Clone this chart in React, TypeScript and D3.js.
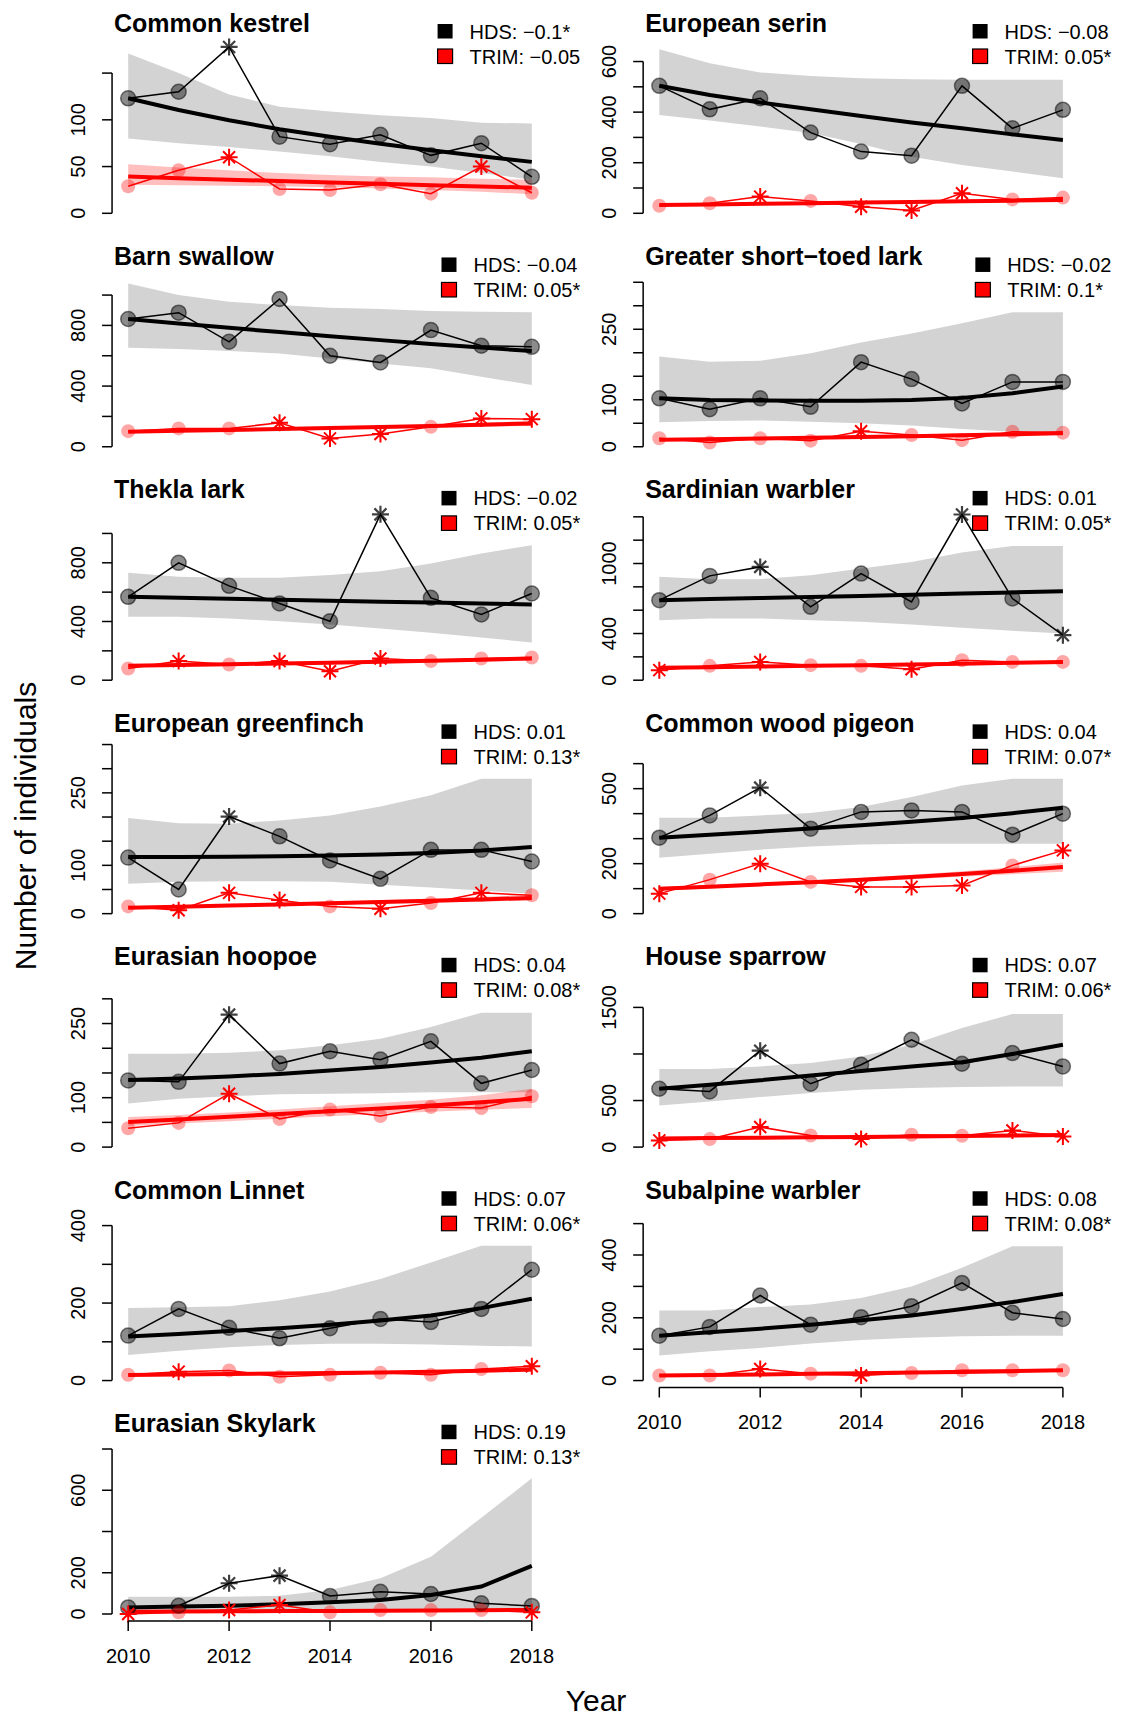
import React, { useEffect, useRef } from 'react';
import * as d3 from 'd3';

// survey years (x axis)
const years = [2010, 2011, 2012, 2013, 2014, 2015, 2016, 2017, 2018];

const species = [
  'Common kestrel', 'European serin', 'Barn swallow', 'Greater short\u2212toed lark',
  'Thekla lark', 'Sardinian warbler', 'European greenfinch', 'Common wood pigeon',
  'Eurasian hoopoe', 'House sparrow', 'Common Linnet', 'Subalpine warbler', 'Eurasian Skylark',
];

const hdsSlope = ['\u22120.1*', '\u22120.08', '\u22120.04', '\u22120.02', '\u22120.02', '0.01', '0.01', '0.04', '0.04', '0.07', '0.07', '0.08', '0.19'];
const trimSlope = ['\u22120.05', '0.05*', '0.05*', '0.1*', '0.05*', '0.05*', '0.13*', '0.07*', '0.08*', '0.06*', '0.06*', '0.08*', '0.13*'];

// y domain top, tick step, top tick and labelled ticks
const yTop = [184, 680, 1134, 366, 1172, 1474, 356, 688, 348, 1847, 444, 548, 834];
const tickStep = [50, 100, 200, 50, 200, 200, 50, 100, 50, 500, 100, 100, 200];
const tickMax = [150, 600, 1000, 350, 1000, 1400, 350, 600, 300, 1500, 400, 500, 800];
const tickLabels = [
  [0, 50, 100], [0, 200, 400, 600], [0, 400, 800], [0, 100, 250], [0, 400, 800], [0, 400, 1000],
  [0, 100, 250], [0, 200, 500], [0, 100, 250], [0, 500, 1500], [0, 200, 400], [0, 200, 400], [0, 200, 600],
];

// HDS abundance estimates
const hdsCounts = [
  [123, 130, 178, 82, 74, 84, 62, 75, 39],
  [504, 411, 455, 319, 244, 228, 504, 336, 409],
  [842, 884, 692, 974, 600, 556, 769, 666, 659],
  [103, 80, 103, 85, 180, 144, 92, 138, 138],
  [568, 800, 643, 523, 402, 1130, 561, 448, 591],
  [686, 894, 971, 629, 914, 671, 1420, 700, 386],
  [116, 50, 201, 160, 110, 72, 132, 132, 108],
  [304, 393, 504, 340, 407, 413, 407, 316, 400],
  [135, 132, 268, 169, 194, 177, 214, 129, 156],
  [627, 598, 1035, 680, 884, 1153, 895, 1010, 866],
  [116, 185, 136, 109, 135, 159, 151, 185, 286],
  [143, 171, 271, 178, 202, 237, 311, 216, 196],
  [32, 40, 149, 186, 87, 108, 97, 52, 39],
];
const hdsStars = [[2], [], [], [], [5], [2, 6, 8], [2], [2], [2], [2], [], [], [2, 3]];

const hdsFit = [
  [123, 110.5, 99.5, 90, 82, 74.5, 67.5, 61, 55],
  [504, 468, 438, 411, 385, 359, 336, 312, 290],
  [842, 812, 784, 756, 729, 703, 678, 654, 631],
  [103, 99.5, 98.5, 98, 98, 99.5, 104, 114, 128],
  [568, 561, 555, 548, 542, 535, 529, 522, 516],
  [686, 695, 704, 713, 722, 732, 742, 752, 763],
  [117, 117.5, 118, 119, 120.5, 122.5, 125.5, 130.5, 138],
  [304, 316, 328, 341, 354, 368, 383, 402, 424],
  [136, 139, 143, 148, 155, 162, 171, 181, 194],
  [626, 670, 718, 768, 818, 866, 912, 1000, 1099],
  [114, 120, 128, 135, 144, 155, 168, 187, 211],
  [143, 154, 165, 178, 192, 207, 228, 250, 276],
  [32, 36, 40, 47, 57, 68, 92, 133, 233],
];
const hdsLower = [
  [80, 75, 71, 66, 61, 55, 50, 43, 36],
  [389, 367, 343, 317, 274, 224, 191, 165, 139],
  [653, 644, 631, 615, 582, 549, 517, 462, 407],
  [52, 55, 56, 53, 50, 45, 38, 32, 28],
  [432, 432, 421, 402, 380, 352, 323, 291, 257],
  [514, 529, 529, 514, 500, 477, 449, 423, 400],
  [62, 66, 67, 67, 66, 60, 54, 48, 41],
  [224, 240, 256, 269, 277, 280, 280, 280, 280],
  [88, 98, 103, 107, 108, 109, 111, 111, 111],
  [448, 491, 537, 580, 616, 634, 645, 652, 652],
  [66, 77, 86, 92, 95, 95, 93, 90, 88],
  [80, 93, 104, 118, 129, 136, 141, 143, 143],
  [19, 19, 20, 20, 20, 19, 19, 18, 16],
];
const hdsUpper = [
  [171, 150, 127, 114, 109, 105, 102, 97, 96],
  [649, 593, 557, 543, 534, 530, 528, 528, 528],
  [1077, 1000, 956, 934, 917, 908, 895, 890, 886],
  [192, 181, 183, 199, 222, 241, 263, 286, 286],
  [732, 705, 698, 698, 716, 743, 795, 864, 920],
  [886, 866, 866, 900, 957, 1014, 1094, 1151, 1151],
  [198, 187, 186, 193, 203, 222, 245, 279, 279],
  [384, 384, 393, 403, 427, 467, 513, 540, 540],
  [189, 189, 191, 196, 206, 219, 243, 272, 272],
  [838, 838, 866, 902, 974, 1099, 1278, 1429, 1429],
  [187, 189, 192, 207, 230, 262, 305, 348, 348],
  [223, 223, 234, 242, 263, 300, 359, 428, 428],
  [84, 84, 84, 89, 116, 173, 278, 467, 658],
];

// TRIM indices
const trimCounts = [
  [29, 46, 60, 26, 25, 31, 21, 50, 22],
  [30, 40, 66, 49, 26, 11, 79, 55, 62],
  [103, 121, 121, 158, 55, 84, 132, 187, 182],
  [18, 9, 18, 13, 33, 25, 14, 32, 30],
  [80, 130, 107, 130, 61, 148, 130, 148, 155],
  [86, 123, 157, 129, 123, 94, 171, 157, 157],
  [15, 7, 43, 28, 15, 10, 22, 43, 38],
  [80, 136, 200, 127, 107, 107, 113, 193, 253],
  [38, 49, 108, 57, 76, 63, 81, 79, 103],
  [72, 86, 215, 125, 86, 133, 122, 179, 115],
  [15, 23, 26, 10, 15, 20, 15, 30, 37],
  [16, 16, 37, 22, 16, 24, 33, 33, 33],
  [0, 8, 19, 44, 8, 19, 19, 19, 8],
];
const trimStars = [[2, 7], [2, 4, 5, 6], [3, 4, 5, 7, 8], [4], [1, 3, 4, 5], [0, 2, 5], [1, 2, 3, 5, 7], [0, 2, 4, 5, 6, 8], [2], [0, 2, 4, 7, 8], [1, 8], [2, 4], [0, 2, 3, 8]];

const trimFit = [
  [39.3, 37.6, 36, 34.5, 33, 31.5, 30.1, 28.7, 27.4],
  [33, 35.2, 37.5, 39.9, 42.4, 44.9, 47.4, 50, 52.7],
  [99, 105, 111, 117, 123, 129.5, 136, 145, 154],
  [15, 16.2, 17.5, 19, 20.5, 22.2, 24.3, 26.5, 29],
  [98, 103, 108.5, 114, 119.5, 125.5, 132, 139.5, 148],
  [106, 111, 117, 123, 129, 135, 141, 149, 157],
  [12.4, 14.5, 16.7, 19, 21.5, 24, 26.8, 29.5, 32.4],
  [100, 108, 117, 126, 136, 147, 159, 172, 187],
  [50.6, 56, 61.5, 67, 72.5, 78, 84, 90.5, 97.8],
  [93, 97, 101, 105, 109.5, 114, 118.5, 123.5, 129],
  [14.6, 15.7, 16.9, 18.2, 19.6, 21.1, 22.8, 25.2, 28.4],
  [16, 17.7, 19.5, 21.4, 23.3, 25.3, 27.5, 30, 33],
  [11.3, 12.2, 13.1, 14, 15, 16, 17.1, 18.2, 19.4],
];
const trimLower = [
  [30.5, 30, 29.5, 29, 28, 26.5, 25, 23, 20.5],
  [28, 30.5, 33, 35.5, 38, 40.5, 42.5, 45, 47],
  [90, 97, 104, 110, 116, 121, 127, 132, 137],
  [12, 13, 14.5, 16, 17.5, 19, 20.5, 22, 24],
  [90, 95, 100, 106, 111, 116, 122, 128, 134],
  [98, 104, 110, 116, 122, 127, 133, 139, 145],
  [10, 12, 14, 16.5, 18.5, 20.5, 22.5, 25, 27],
  [93, 101, 110, 119, 128, 138, 148, 158, 168],
  [42.5, 47.5, 52.5, 57.5, 62.5, 67, 71.5, 75.5, 79],
  [82, 86, 90, 94, 98, 102, 106, 110, 114],
  [12, 13, 14.2, 15.5, 16.8, 18, 19.5, 21, 23],
  [13.5, 15, 17, 19, 21, 22.8, 24.8, 26.8, 29],
  [8, 9, 10, 11, 12, 13, 14, 15, 15.5],
];
const trimUpper = [
  [52.5, 49, 46, 43, 41, 39.5, 38.5, 37, 36],
  [38, 40, 42, 44.5, 47, 49.5, 52, 55, 58],
  [108, 114, 119, 125, 131, 138, 146, 158, 170],
  [18, 19.5, 21, 22.5, 24, 26, 28, 31, 34],
  [106, 111, 117, 123, 128, 135, 143, 151, 162],
  [114, 119, 124, 130, 136, 143, 150, 159, 169],
  [15, 17, 19.5, 22, 24.5, 27.5, 31, 35, 39],
  [107, 115, 124, 133, 144, 156, 170, 186, 205],
  [60.7, 65, 70, 76, 82.5, 89, 96, 105, 118],
  [104, 108, 112, 117, 121, 126, 131, 137, 145],
  [17.5, 18.5, 19.8, 21, 22.5, 24.3, 26.5, 30, 34],
  [19, 20.5, 22, 24, 25.8, 28, 30.5, 33.5, 37],
  [15, 15.5, 16.5, 17.5, 18.5, 19.5, 21, 22.5, 24],
];

const xTicks = [2010, 2012, 2014, 2016, 2018];
const FONT = '"Liberation Sans", Arial, Helvetica, sans-serif';

function starPath(cx: number, cy: number) {
  const a = 8.5, b = 6;
  return `M${cx - a},${cy}H${cx + a}M${cx},${cy - a}V${cy + a}` +
    `M${cx - b},${cy - b}L${cx + b},${cy + b}M${cx - b},${cy + b}L${cx + b},${cy - b}`;
}

export default function App() {
  const ref = useRef<SVGSVGElement>(null);

  useEffect(() => {
    const svg = d3.select(ref.current);
    svg.selectAll('*').remove();

    species.forEach((name, i) => {
      const col = i % 2;
      const row = Math.floor(i / 2);
      const x0 = 128.2 + col * 531.1;
      const zeroY = 213.3 + row * 233.45;
      const top = zeroY - 213.3;

      const x = d3.scaleLinear().domain([2010, 2018]).range([x0, x0 + 403.6]);
      const y = d3.scaleLinear().domain([0, yTop[i]]).range([zeroY, zeroY - 172]);
      const g = svg.append('g');

      const band = (lo: number[], hi: number[]) =>
        d3.area<number>().x(d => x(d)).y0((_, j) => y(lo[j])).y1((_, j) => y(hi[j]))(years);
      const path = (vals: number[]) => d3.line<number>().x(d => x(d)).y((_, j) => y(vals[j]))(years);

      // confidence bands
      g.append('path').attr('d', band(hdsLower[i], hdsUpper[i])).attr('fill', '#d3d3d3');
      g.append('path').attr('d', band(trimLower[i], trimUpper[i])).attr('fill', 'rgba(255,0,0,0.25)');

      // fitted trends
      g.append('path').attr('d', path(hdsFit[i])).attr('fill', 'none').attr('stroke', '#000').attr('stroke-width', 4);
      g.append('path').attr('d', path(trimFit[i])).attr('fill', 'none').attr('stroke', '#ff0000').attr('stroke-width', 4);

      // yearly values
      g.append('path').attr('d', path(hdsCounts[i])).attr('fill', 'none').attr('stroke', '#000').attr('stroke-width', 1.5);
      g.append('path').attr('d', path(trimCounts[i])).attr('fill', 'none').attr('stroke', '#ff0000').attr('stroke-width', 1.5);

      years.forEach((yr, j) => {
        const cx = x(yr), cy = y(hdsCounts[i][j]);
        if (hdsStars[i].includes(j)) {
          g.append('path').attr('d', starPath(cx, cy)).attr('stroke', 'rgba(0,0,0,0.75)').attr('stroke-width', 2.2);
        } else {
          g.append('circle').attr('cx', cx).attr('cy', cy).attr('r', 7.5)
            .attr('fill', 'rgba(0,0,0,0.45)').attr('stroke', 'rgba(0,0,0,0.5)').attr('stroke-width', 1.5);
        }
      });
      years.forEach((yr, j) => {
        const cx = x(yr), cy = y(trimCounts[i][j]);
        if (trimStars[i].includes(j)) {
          g.append('path').attr('d', starPath(cx, cy)).attr('stroke', '#ff0000').attr('stroke-width', 2);
        } else {
          g.append('circle').attr('cx', cx).attr('cy', cy).attr('r', 7).attr('fill', 'rgba(255,0,0,0.35)');
        }
      });

      // y axis
      const axisX = x(2009.68);
      const ticks = d3.range(0, tickMax[i] + tickStep[i] / 2, tickStep[i]);
      g.append('line').attr('x1', axisX).attr('x2', axisX)
        .attr('y1', y(0)).attr('y2', y(tickMax[i])).attr('stroke', '#000').attr('stroke-width', 1.5);
      ticks.forEach(t => {
        g.append('line').attr('x1', axisX - 10).attr('x2', axisX).attr('y1', y(t)).attr('y2', y(t))
          .attr('stroke', '#000').attr('stroke-width', 1.5);
      });
      tickLabels[i].forEach(t => {
        g.append('text').attr('transform', `translate(${axisX - 27},${y(t)}) rotate(-90)`)
          .attr('text-anchor', 'middle').attr('font-family', FONT).attr('font-size', 20).text(t);
      });

      // x axis only on the bottom panel of each column
      if (i === 11 || i === 12) {
        const ay = zeroY + 6.9;
        g.append('line').attr('x1', x(2010)).attr('x2', x(2018)).attr('y1', ay).attr('y2', ay)
          .attr('stroke', '#000').attr('stroke-width', 1.5);
        xTicks.forEach(t => {
          g.append('line').attr('x1', x(t)).attr('x2', x(t)).attr('y1', ay).attr('y2', ay + 10)
            .attr('stroke', '#000').attr('stroke-width', 1.5);
          g.append('text').attr('x', x(t)).attr('y', ay + 42).attr('text-anchor', 'middle')
            .attr('font-family', FONT).attr('font-size', 20).text(t);
        });
      }

      // title
      g.append('text').attr('x', axisX + 2).attr('y', top + 31.5)
        .attr('font-family', FONT).attr('font-size', 25).attr('font-weight', 'bold').text(name);

      // legend, right aligned like R's "topright"
      const t1 = g.append('text').attr('y', top + 38.5)
        .attr('font-family', FONT).attr('font-size', 20).text(`HDS: ${hdsSlope[i]}`);
      const t2 = g.append('text').attr('y', top + 63.5)
        .attr('font-family', FONT).attr('font-size', 20).text(`TRIM: ${trimSlope[i]}`);
      const w = Math.max(
        (t1.node() as SVGTextElement).getComputedTextLength(),
        (t2.node() as SVGTextElement).getComputedTextLength(),
      );
      const tx = x0 + 452 - w;
      t1.attr('x', tx);
      t2.attr('x', tx);
      const lx = tx - 24.5;
      g.append('rect').attr('x', lx - 7.5).attr('y', top + 24).attr('width', 15).attr('height', 14.5).attr('fill', '#000');
      g.append('rect').attr('x', lx - 7.5).attr('y', top + 49).attr('width', 15).attr('height', 14.5)
        .attr('fill', '#ff0000').attr('stroke', '#000').attr('stroke-width', 1.2);
    });

    // outer axis titles
    svg.append('text').attr('transform', 'translate(36,826) rotate(-90)').attr('text-anchor', 'middle')
      .attr('font-family', FONT).attr('font-size', 30).text('Number of individuals');
    svg.append('text').attr('x', 596).attr('y', 1711).attr('text-anchor', 'middle')
      .attr('font-family', FONT).attr('font-size', 30).text('Year');
  }, []);

  return (
    <svg ref={ref} width={1122} height={1717}
      style={{ position: 'absolute', left: 0, top: 0, background: '#fff' }} />
  );
}
